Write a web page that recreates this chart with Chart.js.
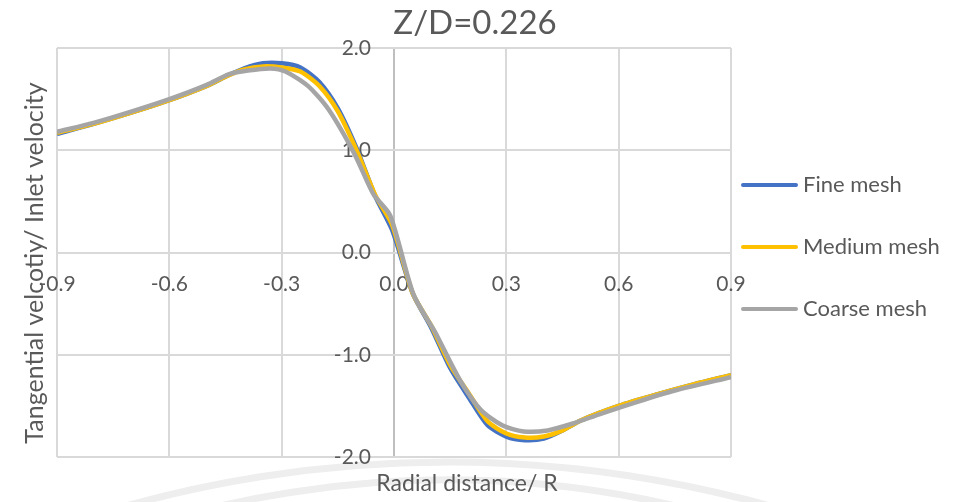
<!DOCTYPE html>
<html lang="en">
<head>
    <meta charset="UTF-8">
    <title>Z/D=0.226</title>
    <script src="https://cdn.jsdelivr.net/npm/chart.js@4.4.1/dist/chart.umd.min.js"></script>
    <style>
      html, body { margin: 0; padding: 0; background: #fff; }
      #wrap { width: 957px; height: 502px; }
    </style>
</head>
<body>
<div id="wrap">
    <canvas id="myChart" width="957" height="502"></canvas>
</div>

<script>
  // values
  const radial = [-0.9, -0.8, -0.7, -0.6, -0.5, -0.45, -0.4, -0.35, -0.3, -0.25, -0.2, -0.15, -0.1, -0.05, -0.005,
                  0.05, 0.1, 0.15, 0.2, 0.25, 0.3, 0.35, 0.4, 0.45, 0.5, 0.6, 0.7, 0.8, 0.9];
  const fineMesh = [1.16, 1.26, 1.37, 1.49, 1.63, 1.72, 1.80, 1.85, 1.85, 1.81, 1.67, 1.41, 1.02, 0.55, 0.22,
                    -0.40, -0.74, -1.13, -1.42, -1.69, -1.80, -1.835, -1.82, -1.74, -1.64, -1.50, -1.39, -1.29, -1.20];
  const mediumMesh = [1.17, 1.26, 1.37, 1.49, 1.63, 1.72, 1.79, 1.82, 1.81, 1.77, 1.63, 1.38, 1.00, 0.56, 0.27,
                      -0.40, -0.72, -1.10, -1.38, -1.65, -1.77, -1.81, -1.80, -1.74, -1.64, -1.50, -1.39, -1.29, -1.20];

  const radialCoarse = [-0.9, -0.8, -0.7, -0.6, -0.5, -0.44, -0.39, -0.33, -0.29, -0.23, -0.175, -0.105, -0.055, -0.01,
                        0.052, 0.11, 0.175, 0.231, 0.289, 0.346, 0.41, 0.48, 0.55, 0.65, 0.75, 0.9];
  const coarseMesh = [1.18, 1.27, 1.38, 1.50, 1.64, 1.745, 1.78, 1.80, 1.77, 1.63, 1.40, 0.96, 0.57, 0.36,
                      -0.41, -0.78, -1.24, -1.535, -1.69, -1.75, -1.74, -1.67, -1.58, -1.46, -1.35, -1.22];

  const xTicks = [-0.9, -0.6, -0.3, 0.0, 0.3, 0.6, 0.9];
  const yTicks = [-2.0, -1.0, 0.0, 1.0, 2.0];

  const textColor = '#595959';
  const fontName = 'Lato, "Open Sans", sans-serif';

  const pts = (xs, ys) => xs.map((x, i) => ({x: x, y: ys[i]}));

  // title, axis titles, legend and the faint watermark are drawn by hand
  const decorations = {
    id: 'decorations',
    beforeDraw(chart) {
      const c = chart.ctx;
      c.save();
      c.strokeStyle = '#eeeeee';
      c.lineWidth = 7;
      c.beginPath();
      c.arc(448, 462 + 1200, 1200, Math.PI * 1.2, Math.PI * 1.8);
      c.stroke();
      c.beginPath();
      c.arc(448, 480 + 1010, 1010, Math.PI * 1.2, Math.PI * 1.8);
      c.stroke();
      c.restore();
    },
    afterDraw(chart) {
      const c = chart.ctx;
      c.save();
      c.fillStyle = textColor;
      c.textBaseline = 'middle';
      c.textAlign = 'center';
      c.font = '33px ' + fontName;
      c.fillText('Z/D=0.226', 475, 23);
      c.font = '23px ' + fontName;
      c.fillText('Radial distance/ R', 467, 484);
      c.save();
      c.translate(35, 263);
      c.rotate(-Math.PI / 2);
      c.font = '25px ' + fontName;
      c.fillText('Tangential velcotiy/ Inlet velocity', 0, 0);
      c.restore();

      c.textAlign = 'left';
      c.font = '22px ' + fontName;
      chart.data.datasets.forEach((ds, i) => {
        const y = 185 + i * 62;
        c.strokeStyle = ds.borderColor;
        c.lineWidth = 4;
        c.lineCap = 'round';
        c.beginPath();
        c.moveTo(743, y);
        c.lineTo(796, y);
        c.stroke();
        c.fillText(ds.label, 803, y);
      });
      c.restore();
    }
  };

  const ctx = document.getElementById('myChart');

  new Chart(ctx, {
    type: 'line',
    data: {
      datasets: [
        { label: 'Fine mesh', data: pts(radial, fineMesh), borderColor: '#4472C4', order: 2 },
        { label: 'Medium mesh', data: pts(radial, mediumMesh), borderColor: '#FFC000', order: 1 },
        { label: 'Coarse mesh', data: pts(radialCoarse, coarseMesh), borderColor: '#A5A5A5', order: 0 }
      ]
    },
    options: {
      responsive: false,
      animation: false,
      layout: {
        padding: { left: 57, right: 226, top: 48, bottom: 45 }
      },
      elements: {
        point: { radius: 0 },
        line: { borderWidth: 4.5, tension: 0.25, fill: false }
      },
      scales: {
        x: {
          type: 'linear',
          min: -0.9,
          max: 0.9,
          position: { y: 0 },
          afterBuildTicks: (axis) => { axis.ticks = xTicks.map(v => ({value: v})); },
          grid: {
            // the x = 0 line doubles as the vertical axis
            color: (c) => (c.tick && c.tick.value === 0) ? '#bfbfbf' : '#d9d9d9',
            lineWidth: 2,
            drawTicks: false
          },
          border: { display: false },
          ticks: {
            padding: 19,
            color: textColor,
            font: { family: fontName, size: 21 },
            callback: (v) => v.toFixed(1)
          }
        },
        y: {
          type: 'linear',
          min: -2,
          max: 2,
          // labels sit a little left of the x = 0 line
          position: { x: -0.0615 },
          afterBuildTicks: (axis) => { axis.ticks = yTicks.map(v => ({value: v})); },
          grid: {
            color: '#d9d9d9',
            lineWidth: 2,
            drawTicks: false
          },
          border: { display: false },
          ticks: {
            color: textColor,
            font: { family: fontName, size: 21 },
            callback: (v) => v.toFixed(1)
          }
        }
      },
      plugins: {
        legend: { display: false },
        tooltip: { enabled: false }
      }
    },
    plugins: [decorations]
  });
</script>
</body>
</html>
